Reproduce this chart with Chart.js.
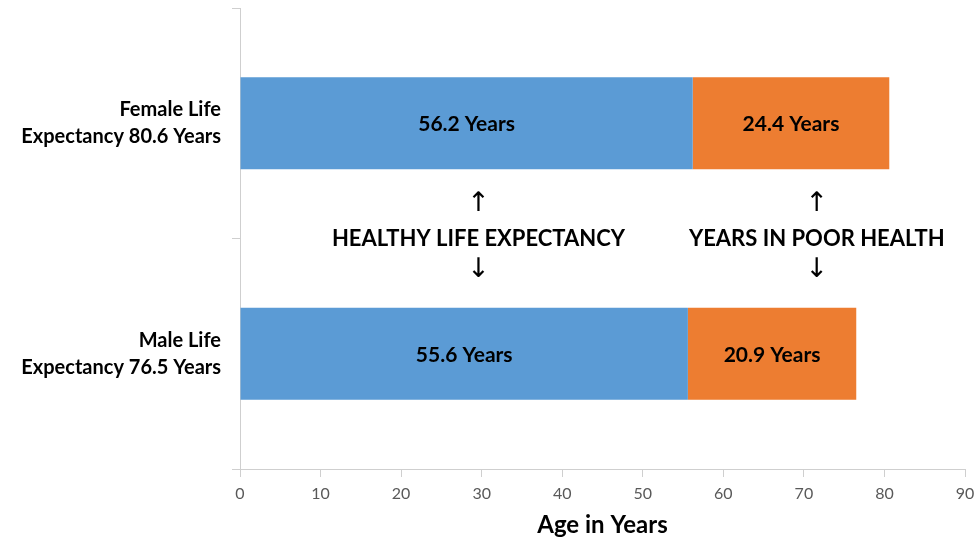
<!DOCTYPE html>
<html lang="en">
<head>
  <meta charset="UTF-8">
  <title>Life expectancy</title>
  <script src="https://cdn.jsdelivr.net/npm/chart.js@4.4.1/dist/chart.umd.min.js"></script>
  <style>
    html, body { margin: 0; padding: 0; background: #fff; }
    #wrap { width: 980px; height: 546px; }
  </style>
</head>
<body>
  <div id="wrap"><canvas id="lifeChart"></canvas></div>

  <script>
    // categories (multi-line labels) and the two stacked series
    var groups = [["Female Life", "Expectancy 80.6 Years"], ["Male Life", "Expectancy 76.5 Years"]];
    var healthyYears = [56.2, 55.6];
    var poorHealthYears = [24.4, 20.9];
    var xTicks = [0, 10, 20, 30, 40, 50, 60, 70, 80, 90];

    // callouts placed in data coords (x value, between the two bars)
    var callouts = [
      { text: "HEALTHY LIFE EXPECTANCY", x: 29.6 },
      { text: "YEARS IN POOR HEALTH", x: 71.6 }
    ];

    var axisGray = "#cfcfcf";

    // writes "xx.x Years" in the middle of each bar segment
    var barLabels = {
      id: "barLabels",
      afterDatasetsDraw(chart) {
        let ctx = chart.ctx;
        ctx.save();
        ctx.font = "bold 21px Lato";
        ctx.fillStyle = "#000";
        ctx.textAlign = "center";
        ctx.textBaseline = "middle";
        chart.data.datasets.forEach((ds, i) => {
          chart.getDatasetMeta(i).data.forEach((bar, j) => {
            ctx.fillText(ds.data[j] + " Years", (bar.x + bar.base) / 2, bar.y + 1);
          });
        });
        ctx.restore();
      }
    };

    // the two captions with arrows pointing at the bars
    var calloutText = {
      id: "calloutText",
      afterDraw(chart) {
        let ctx = chart.ctx;
        let xs = chart.scales.x, ys = chart.scales.y;
        let midY = ys.getPixelForValue(0.5);
        ctx.save();
        ctx.fillStyle = "#000";
        ctx.textAlign = "center";
        ctx.textBaseline = "middle";
        callouts.forEach(c => {
          let px = xs.getPixelForValue(c.x);
          ctx.font = "bold 22px Lato";
          ctx.fillText(c.text, px, midY);
          ctx.font = "27px 'DejaVu Sans'";
          ctx.fillText("\u2191", px, midY - 35);
          ctx.fillText("\u2193", px, midY + 31);
        });
        ctx.restore();
      }
    };

    new Chart("lifeChart", {
      type: "bar",
      data: {
        labels: groups,
        datasets: [{
          label: "Healthy life expectancy",
          data: healthyYears,
          backgroundColor: "#5B9BD5",
          barPercentage: 0.4,
          categoryPercentage: 1
        }, {
          label: "Years in poor health",
          data: poorHealthYears,
          backgroundColor: "#ED7D31",
          barPercentage: 0.4,
          categoryPercentage: 1
        }]
      },
      options: {
        indexAxis: "y",
        responsive: true,
        maintainAspectRatio: false,
        animation: false,
        layout: { padding: { top: 8, right: 15, left: 0, bottom: 0 } },
        plugins: {
          legend: { display: false },
          tooltip: { enabled: false }
        },
        scales: {
          x: {
            stacked: true,
            min: 0,
            max: 90,
            afterBuildTicks: (scale) => { scale.ticks = xTicks.map(v => ({ value: v })); },
            afterFit: (scale) => { scale.height = 77; scale.paddingLeft = 0; scale.paddingRight = 0; },
            grid: { drawOnChartArea: false, color: axisGray, tickLength: 8 },
            border: { display: true, color: axisGray },
            ticks: { color: "#595959", font: { family: "Lato", size: 16 }, padding: 7, maxRotation: 0 },
            title: {
              display: true,
              text: "Age in Years",
              color: "#000",
              font: { family: "Lato", size: 24, weight: "bold" },
              padding: { top: 0, bottom: 6 }
            }
          },
          y: {
            stacked: true,
            afterFit: (scale) => { scale.width = 240; scale.paddingTop = 0; scale.paddingBottom = 0; },
            grid: { drawOnChartArea: false, color: axisGray, tickLength: 8, offset: true },
            border: { display: true, color: axisGray },
            ticks: { color: "#000", font: { family: "Lato", size: 20, weight: "bold", lineHeight: 1.35 }, padding: 11 }
          }
        }
      },
      plugins: [barLabels, calloutText]
    });
  </script>
</body>
</html>
